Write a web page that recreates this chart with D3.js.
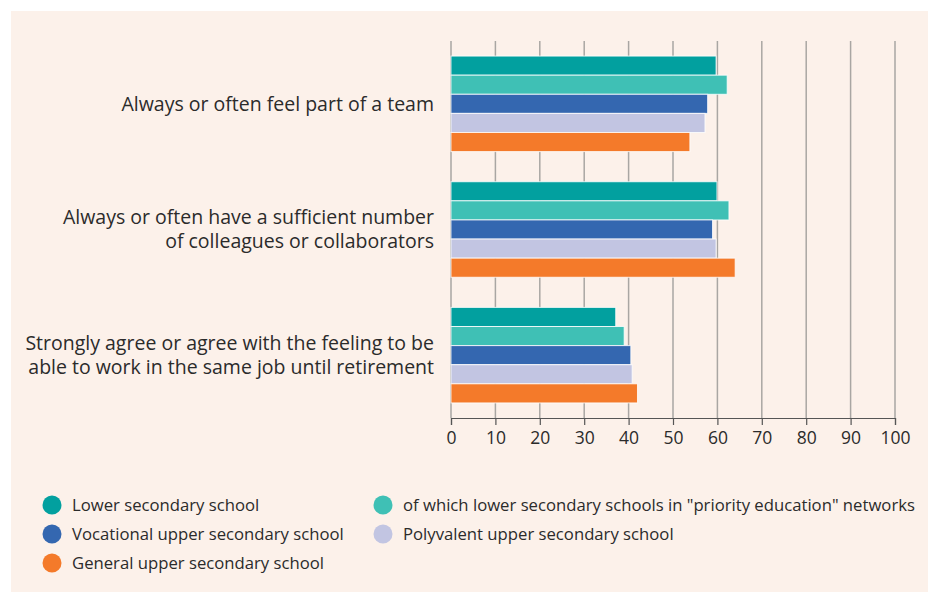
<!DOCTYPE html>
<html>
<head>
<meta charset="utf-8">
<script src="https://cdn.jsdelivr.net/npm/d3@7"></script>
<style>
  body { margin: 0; background: #fff; }
  svg text { font-family: "Open Sans", Lato, sans-serif; fill: #2b2b2b; }
</style>
</head>
<body>
<div id="chart"></div>
<script>
// categories (one label line per entry)
const categories = [
  ["Always or often feel part of a team"],
  ["Always or often have a sufficient number", "of colleagues or collaborators"],
  ["Strongly agree or agree with the feeling to be", "able to work in the same job until retirement"]
];

const seriesNames = [
  "Lower secondary school",
  "of which lower secondary schools in \"priority education\" networks",
  "Vocational upper secondary school",
  "Polyvalent upper secondary school",
  "General upper secondary school"
];
const seriesColors = ["#02a09f", "#3fc0b5", "#3467b0", "#c2c5e2", "#f47a2a"];

// values per series, in category order
const lowerSecondary = [59.7, 59.9, 37.1];
const priorityEducation = [62.2, 62.6, 39.0];
const vocational = [57.8, 58.9, 40.5];
const polyvalent = [57.2, 59.7, 40.8];
const general = [53.8, 64.0, 42.0];
const seriesValues = [lowerSecondary, priorityEducation, vocational, polyvalent, general];

const xTicks = [0, 10, 20, 30, 40, 50, 60, 70, 80, 90, 100];

const w = 928, h = 592;
const margin = { top: 41, right: 33, bottom: 174, left: 451 };

const svg = d3.select("#chart")
  .append("svg")
  .attr("width", w)
  .attr("height", h);

// fond
svg.append("rect")
  .attr("x", 11).attr("y", 11)
  .attr("width", w - 11).attr("height", h - 11)
  .attr("fill", "#fcf1ea");

const xScale = d3.scaleLinear()
  .domain([0, 100])
  .range([margin.left, w - margin.right]);

const yScale = d3.scaleBand()
  .domain(d3.range(categories.length))
  .range([margin.top, h - margin.bottom])
  .paddingInner(0.24)
  .paddingOuter(0.12);

const ySub = d3.scaleBand()
  .domain(d3.range(seriesNames.length))
  .range([0, yScale.bandwidth()]);

// grid
svg.append("g")
  .selectAll("line")
  .data(xTicks)
  .join("line")
  .attr("x1", d => xScale(d))
  .attr("x2", d => xScale(d))
  .attr("y1", margin.top)
  .attr("y2", h - margin.bottom)
  .attr("stroke", "#a9a6a3")
  .attr("stroke-width", 1.5);

// bars
const groups = svg.append("g")
  .selectAll("g")
  .data(seriesValues)
  .join("g")
  .attr("fill", (d, i) => seriesColors[i]);

groups.selectAll("rect")
  .data((vals, si) => vals.map((v, ci) => ({ v, ci, si })))
  .join("rect")
  .attr("x", xScale(0))
  .attr("y", d => yScale(d.ci) + ySub(d.si))
  .attr("width", d => xScale(d.v) - xScale(0))
  .attr("height", ySub.bandwidth())
  .attr("stroke", "#ffffff")
  .attr("stroke-opacity", 0.8)
  .attr("stroke-width", 1);

// axis
const xAxis = d3.axisBottom(xScale)
  .tickValues(xTicks)
  .tickSize(7)
  .tickPadding(7);

const axisG = svg.append("g")
  .attr("transform", `translate(0,${h - margin.bottom})`)
  .call(xAxis);
axisG.selectAll("path, line").attr("stroke", "#555").attr("stroke-width", 1.2);
axisG.selectAll("text")
  .style("font-family", "'Open Sans', sans-serif")
  .style("font-size", "17.5px")
  .attr("fill", "#2b2b2b");

// category labels
const labels = svg.append("g")
  .selectAll("text")
  .data(categories)
  .join("text")
  .attr("text-anchor", "end")
  .style("font-size", "19.5px");

labels.each(function (lines, i) {
  const cy = yScale(i) + yScale.bandwidth() / 2;
  const lh = 24;
  const y0 = cy - (lines.length - 1) * lh / 2;
  d3.select(this).selectAll("tspan")
    .data(lines)
    .join("tspan")
    .attr("x", 434)
    .attr("y", (d, j) => y0 + j * lh)
    .attr("dy", "0.35em")
    .text(d => d);
});

// legend
const legendPos = [
  { x: 52, y: 505 }, { x: 383, y: 505 },
  { x: 52, y: 534 }, { x: 383, y: 534 },
  { x: 52, y: 563 }
];
const legend = svg.append("g")
  .selectAll("g")
  .data(seriesNames)
  .join("g")
  .attr("transform", (d, i) => `translate(${legendPos[i].x},${legendPos[i].y})`);

legend.append("circle")
  .attr("r", 9.5)
  .attr("fill", (d, i) => seriesColors[i]);

legend.append("text")
  .attr("x", 20)
  .attr("dy", "0.35em")
  .style("font-size", "16.7px")
  .text(d => d);
</script>
</body>
</html>
